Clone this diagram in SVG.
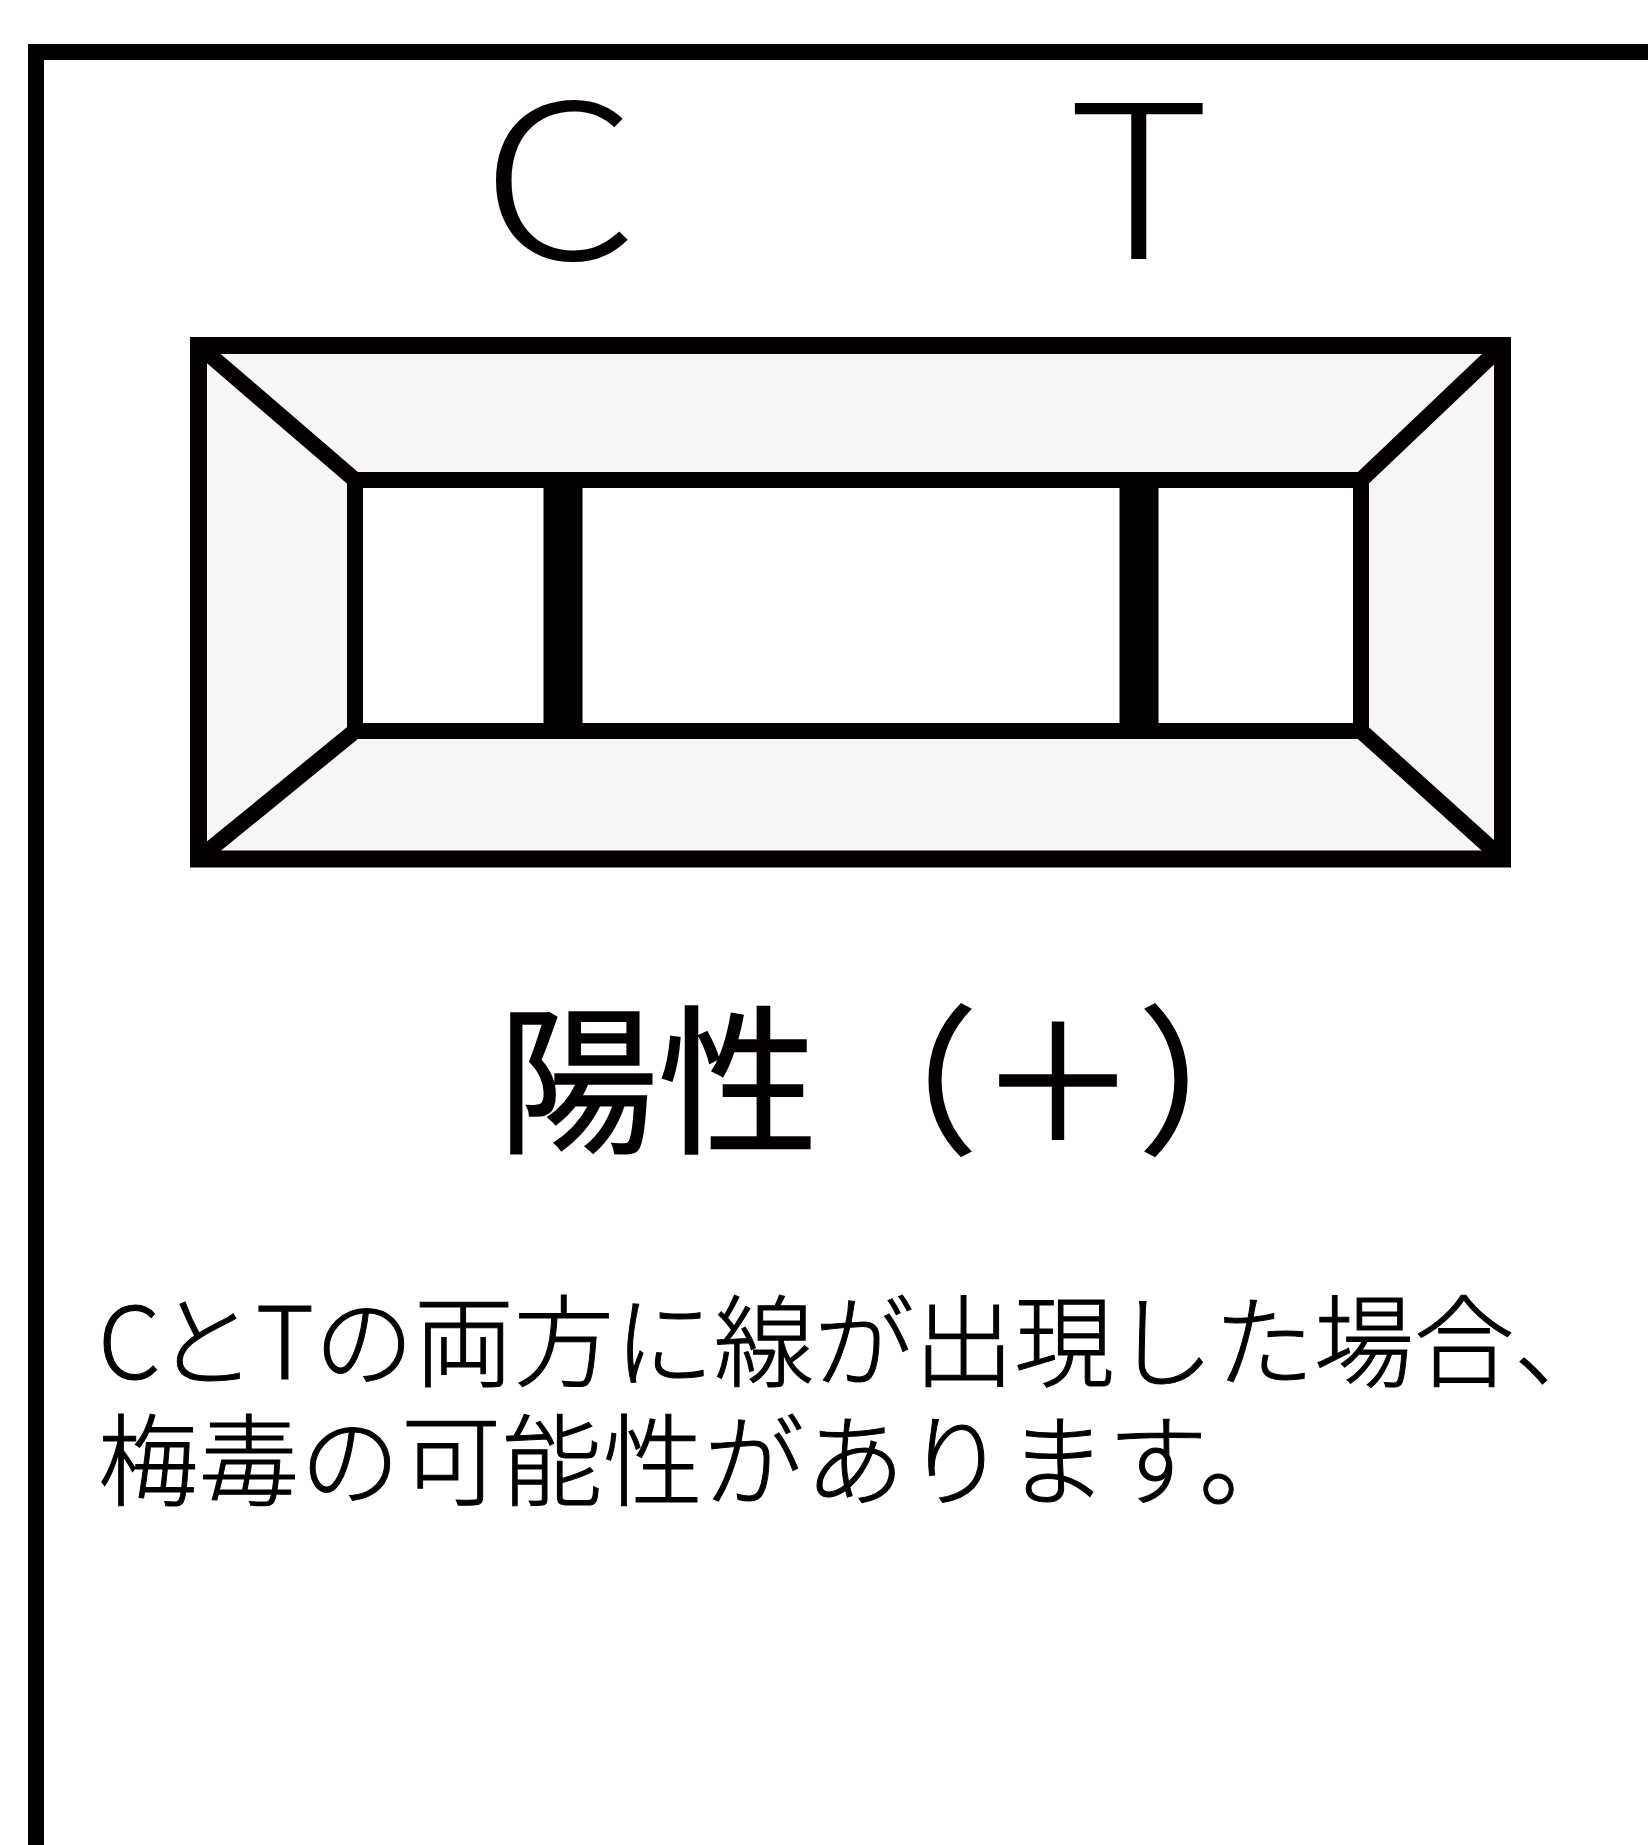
<svg xmlns="http://www.w3.org/2000/svg" width="1648" height="1845" viewBox="0 0 1648 1845">
<style>
.ln{fill:none;stroke:#040000;stroke-width:16;stroke-linejoin:miter}
.lb{stroke-width:17}
.bev{fill:#f6f6f6;stroke:none}
text{fill:#040000;font-family:"Noto Sans CJK JP","Liberation Sans",sans-serif}
.lat{font-size:214px;font-weight:300}
.head{font-size:160px;font-weight:400;stroke:#040000;stroke-width:1.5}
.body{font-size:100px;font-weight:300;stroke:#040000;stroke-width:1}
</style>
<rect width="1648" height="1845" fill="#fff"/>
<g id="frame"><path class="ln" d="M1660 52H36V1860"/></g>
<g id="cassette">
<rect class="bev" x="198" y="345" width="1304" height="514"/>
<rect x="355" y="480" width="1006" height="251" fill="#fff"/>
<rect class="ln lb" x="198.500" y="345.500" width="1304" height="513.500"/>
<path class="ln" d="M198 345L355 480M1503 345L1361 480M198 859L355 731M1503 859L1361 731"/>
<rect class="ln" x="355" y="480" width="1006" height="251"/>
<rect id="line-c" x="543.500" y="480" width="39" height="251" fill="#000"/>
<rect id="line-t" x="1119.500" y="480" width="39" height="251" fill="#000"/>
</g>
<g id="labels">
<text class="lat" transform="translate(481 259) scale(1.17 1)">C</text>
<text class="lat" transform="translate(1067 259) scale(1.15 1)">T</text>
<text class="head" x="498" y="1141">陽性（＋）</text>
<text class="body" x="98" y="1379"><tspan>C</tspan><tspan dx="-5">とTの両方に線が出現した場合、</tspan></text>
<text class="body" x="98" y="1498" letter-spacing="1">梅毒の可能性があります。</text>
</g>
</svg>
